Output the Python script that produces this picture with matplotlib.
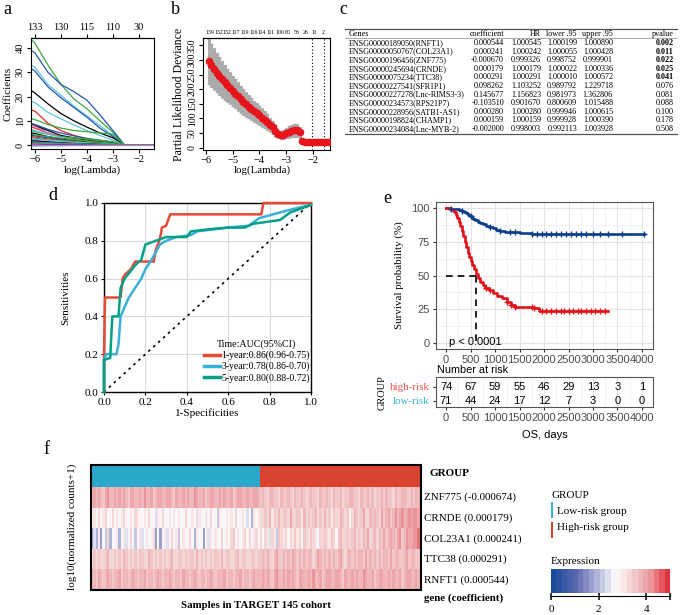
import numpy as np
import matplotlib
matplotlib.use('Agg')
import matplotlib.pyplot as plt
from matplotlib.colors import LinearSegmentedColormap, ListedColormap
from matplotlib.patches import Rectangle
from matplotlib.lines import Line2D
import matplotlib.cm as cm
import matplotlib.colors as mcolors

plt.rcParams['font.family'] = ['Liberation Serif', 'DejaVu Serif']
plt.rcParams['axes.unicode_minus'] = True
SANS = ['Liberation Sans', 'DejaVu Sans']

# ---------------- data ----------------
# panel a: lasso coefficient paths
lasso_loglam = [-6.15, -6.0, -5.5, -5.0, -4.5, -4.0, -3.5, -3.0, -2.55, -1.42]
lasso_colors = ['#3CA93C', '#2456B4', '#5DC3E0', '#2456B4', 'black', '#5DC3E0', '#E8262B',
                '#3CA93C', '#2456B4', 'black', '#E8262B', '#3CA93C', '#D36FC6', '#5DC3E0',
                'black', '#3CA93C', '#2456B4', '#E8262B', '#3CA93C', '#5DC3E0', '#D36FC6',
                'black', '#2456B4', '#3CA93C', '#E8262B', '#5DC3E0', '#2456B4', '#3CA93C',
                '#D36FC6']
lasso_coefs = [
    [43.5, 42, 33, 25, 19, 15, 10, 5.3, 0, 0],
    [39, 38, 30, 25, 22, 18.5, 12.5, 6, 0, 0],
    [33, 32, 25, 20.5, 16, 12, 8, 4, 0, 0],
    [31.5, 30.5, 24, 19.5, 15.5, 11.5, 7, 3.5, 0, 0],
    [22.5, 21.5, 17, 13, 10, 7.4, 5, 3, 0, 0],
    [18, 17.5, 13.5, 10.8, 8.3, 6, 4, 2, 0, 0],
    [14.5, 14, 9, 6, 4, 2.5, 1.5, 0.5, 0, 0],
    [11, 10.5, 8.5, 7, 6, 5.5, 5, 4.5, 0, 0],
    [9, 8.5, 6.5, 5, 3.8, 2.8, 2, 1, 0, 0],
    [8.5, 8, 6, 4, 3, 2, 1.3, 0.6, 0, 0],
    [7.5, 7, 5, 3.5, 2.5, 1.5, 0.8, 0.3, 0, 0],
    [6, 5.5, 4.5, 3.5, 3, 2.5, 2, 1.5, 0, 0],
    [8.2, 7.8, 5, 3, 2, 1, 0.5, 0.2, 0, 0],
    [6.5, 6, 4.5, 3.2, 2.2, 1.5, 1, 0.5, 0, 0],
    [5, 4.8, 3.5, 2.5, 1.8, 1.2, 0.8, 0.4, 0, 0],
    [4.5, 4.2, 3.5, 2.8, 2.2, 1.8, 1.2, 0.6, 0, 0],
    [4, 3.8, 3, 2.2, 1.6, 1.0, 0.6, 0.2, 0, 0],
    [3.5, 3.3, 2.5, 2.0, 1.5, 1.0, 0.5, 0.2, 0, 0],
    [3, 2.8, 2.2, 1.8, 1.4, 1.0, 0.7, 0.3, 0, 0],
    [2.5, 2.4, 2, 1.6, 1.2, 0.9, 0.5, 0.2, 0, 0],
    [2.2, 2, 1.5, 1.0, 0.7, 0.4, 0.2, 0.1, 0, 0],
    [1.8, 1.7, 1.3, 1.0, 0.7, 0.5, 0.3, 0.1, 0, 0],
    [1.5, 1.4, 1.0, 0.8, 0.5, 0.3, 0.2, 0.1, 0, 0],
    [1.2, 1.1, 0.9, 0.7, 0.5, 0.4, 0.2, 0.1, 0, 0],
    [0.9, 0.8, 0.6, 0.4, 0.3, 0.2, 0.1, 0, 0, 0],
    [0.6, 0.6, 0.5, 0.4, 0.3, 0.2, 0.1, 0, 0, 0],
    [0.4, 0.4, 0.3, 0.3, 0.2, 0.2, 0.1, 0, 0, 0],
    [-0.3, -0.3, -0.2, -0.2, -0.1, -0.1, 0, 0, 0, 0],
    [0, 0, 0, 0, 0, 0, 0, 0, 0, 0],
]
a_top_labels = ['133', '130', '115', '110', '30']

# panel b: cross-validation deviance
cv_loglam = [-5.9, -5.8, -5.7, -5.6, -5.5, -5.4, -5.3, -5.2, -5.1, -5.0,
             -4.9, -4.8, -4.7, -4.6, -4.5, -4.4, -4.3, -4.2, -4.1, -4.0,
             -3.9, -3.8, -3.7, -3.6, -3.5, -3.4, -3.3, -3.2, -3.1, -3.0,
             -2.9, -2.8, -2.7, -2.6, -2.5, -2.4, -2.3, -2.2, -2.1, -2.0,
             -1.9, -1.8, -1.7, -1.6, -1.5, -1.4]
cv_mean = [295, 282, 269, 257, 245, 234, 224, 213, 203, 193,
           184, 175, 166, 157, 148, 140, 133, 125, 118, 111,
           103, 95, 87, 78, 69, 57, 47, 42, 45, 50,
           54, 57, 59, 60, 52, 22, 19, 18, 18, 18,
           18, 18, 18, 18, 18, 18]
cv_sd = [77, 74, 71, 68, 65, 63, 60, 57, 55, 52,
         50, 48, 46, 44, 42, 40, 38, 36, 35, 33,
         31, 29, 27, 25, 22, 19, 15, 14, 16, 18,
         20, 22, 22, 22, 18, 6, 5, 4, 4, 4,
         4, 4, 4, 4, 4, 4]
b_top_labels = ['139', '132', '132', '117', '119', '116', '114', '111', '100', '80', '56', '26', '11', '2']
b_lambda_lines = [-2.02, -1.60]

# panel c: table
tab_header = ['Genes', 'coefficient', 'HR', 'lower .95', 'upper .95', 'pvalue']
tab_genes = ['ENSG00000189050(RNFT1)', 'ENSG00000050767(COL23A1)', 'ENSG00000196456(ZNF775)',
             'ENSG00000245694(CRNDE)', 'ENSG00000075234(TTC38)', 'ENSG00000227541(SFR1P1)',
             'ENSG00000227278(Lnc-RIMS3-3)', 'ENSG00000234573(RPS21P7)', 'ENSG00000228956(SATB1-AS1)',
             'ENSG00000198824(CHAMP1)', 'ENSG00000234084(Lnc-MYB-2)']
tab_coef = ['0.000544', '0.000241', '-0.000670', '0.000179', '0.000291', '0.098262',
            '0.145677', '-0.103510', '0.000280', '0.000159', '-0.002000']
tab_hr = ['1.000545', '1.000242', '0.999326', '1.000179', '1.000291', '1.103252',
          '1.156823', '0.901670', '1.000280', '1.000159', '0.998003']
tab_low = ['1.000199', '1.000055', '0.998752', '1.000022', '1.000010', '0.989792',
           '0.981973', '0.800609', '0.999946', '0.999928', '0.992113']
tab_up = ['1.000890', '1.000428', '0.999901', '1.000336', '1.000572', '1.229718',
          '1.362806', '1.015488', '1.000615', '1.000390', '1.003928']
tab_p = ['0.002', '0.011', '0.022', '0.025', '0.041', '0.076', '0.081', '0.088', '0.100', '0.178', '0.508']

# panel d: ROC curves
roc1_fpr = [0, 0, 0.005, 0.08, 0.09, 0.10, 0.13, 0.15, 0.24, 0.25, 0.27, 0.28, 0.30, 0.32, 0.76, 0.77, 1.0]
roc1_tpr = [0, 0.2, 0.5, 0.5, 0.6, 0.62, 0.65, 0.69, 0.69, 0.75, 0.81, 0.87, 0.88, 0.94, 0.94, 1.0, 1.0]
roc3_fpr = [0, 0, 0.01, 0.06, 0.07, 0.08, 0.10, 0.12, 0.15, 0.18, 0.20, 0.23, 0.27, 0.30, 0.35, 0.42,
            0.45, 0.60, 0.70, 0.75, 0.85, 0.92, 1.0]
roc3_tpr = [0, 0.17, 0.20, 0.20, 0.25, 0.40, 0.45, 0.50, 0.55, 0.60, 0.65, 0.70, 0.78, 0.80, 0.82, 0.83,
            0.85, 0.87, 0.88, 0.92, 0.95, 0.97, 0.99]
roc5_fpr = [0, 0, 0.03, 0.04, 0.07, 0.08, 0.10, 0.15, 0.18, 0.20, 0.25, 0.30, 0.40, 0.42, 0.50, 0.60,
            0.68, 0.72, 0.85, 0.90, 1.0]
roc5_tpr = [0, 0.17, 0.18, 0.40, 0.40, 0.55, 0.60, 0.67, 0.70, 0.78, 0.80, 0.82, 0.82, 0.85, 0.86, 0.87,
            0.87, 0.89, 0.91, 0.95, 0.99]
roc_labels = ['1-year:0.86(0.96-0.75)', '3-year:0.78(0.86-0.70)', '5-year:0.80(0.88-0.72)']

# panel e: Kaplan-Meier
km_low_t = [0, 90, 180, 260, 320, 360, 400, 440, 480, 520, 560, 600, 650, 700, 760, 820, 880, 950,
            1020, 1100, 1200, 1300, 1500, 1750]
km_low_s = [100, 99.5, 99, 98.5, 98, 97, 96, 95, 94, 93, 92, 91, 90, 89, 88, 87, 86, 85,
            84, 83, 82.5, 82, 81.5, 80.5]
km_low_end = 4050
km_low_cens = [100, 330, 500, 900, 1100, 1300, 1400, 1750, 1850, 1950, 2050, 2150, 2250, 2350,
               2450, 2550, 2650, 2750, 2850, 3000, 3150, 3300, 3600, 4050]
km_high_t = [0, 110, 160, 200, 230, 260, 290, 320, 350, 380, 410, 440, 470, 500, 540, 580, 620, 660,
             700, 750, 800, 870, 950, 1050, 1150, 1250, 1320, 1400, 1800, 1900]
km_high_s = [100, 98.6, 97, 95, 93, 90, 87, 83, 79, 75, 71, 67, 64, 61, 58, 55, 51, 48,
             45, 43, 41, 39, 37, 35, 33, 30, 28, 27, 26, 23.5]
km_high_end = 3300
km_high_cens = [820, 900, 1250, 1330, 1400, 1750, 1800, 1950, 2050, 2150, 2250, 2350, 2400, 2500,
                2600, 2700, 2750, 2850, 2950, 3050, 3150, 3250]
risk_times = [0, 500, 1000, 1500, 2000, 2500, 3000, 3500, 4000]
risk_high = [74, 67, 59, 55, 46, 29, 13, 3, 1]
risk_low = [71, 44, 24, 17, 12, 7, 3, 0, 0]

# panel f: heatmap
group_sizes = [74, 71]
hm_genes = ['ZNF775 (-0.000674)', 'CRNDE (0.000179)', 'COL23A1 (0.000241)', 'TTC38 (0.000291)', 'RNFT1 (0.000544)']
znf775 = [3.8, 3.9, 3.7, 4.0, 3.8, 3.6, 3.9, 4.1, 3.8, 3.7,
          3.9, 3.8, 4.0, 3.7, 3.9, 3.8, 3.6, 3.9, 4.0, 3.8,
          3.7, 3.9, 3.8, 4.1, 3.7, 3.8, 3.9, 3.6, 3.8, 4.0,
          3.9, 3.7, 3.8, 3.9, 4.0, 3.8, 3.6, 3.9, 3.8, 3.7,
          4.0, 3.8, 3.9, 3.7, 3.8, 4.1, 3.9, 3.7, 3.8, 3.9,
          3.6, 3.8, 4.0, 3.9, 3.7, 3.8, 3.9, 3.8, 4.0, 3.7,
          3.8, 3.9, 3.6, 3.8, 3.9, 4.0, 3.7, 3.8, 3.9, 3.7,
          3.8, 4.0, 3.9, 3.8,
          3.5, 3.7, 3.6, 3.4, 3.7, 3.8, 3.5, 3.6, 3.3, 3.7,
          3.6, 3.5, 3.8, 3.6, 3.4, 3.7, 3.5, 3.6, 3.8, 3.5,
          3.4, 3.6, 3.7, 3.5, 3.6, 3.3, 3.7, 3.6, 3.5, 3.8,
          3.6, 3.4, 3.7, 3.5, 3.6, 3.7, 3.4, 3.6, 3.5, 3.8,
          3.7, 3.5, 3.6, 3.4, 3.7, 3.6, 3.5, 3.8, 3.6, 3.7,
          3.4, 3.6, 3.5, 3.7, 3.6, 3.8, 3.5, 3.6, 3.4, 3.7,
          3.6, 3.5, 3.7, 3.8, 3.6, 3.5, 3.7, 3.6, 3.8, 3.7, 3.6]
crnde = [2.9, 3.1, 2.7, 3.3, 2.8, 3.0, 3.4, 2.6, 2.9, 3.2,
         2.8, 3.0, 2.7, 3.1, 3.3, 2.9, 2.6, 3.0, 2.8, 3.2,
         3.0, 2.7, 2.9, 3.1, 2.8, 3.3, 2.6, 2.9, 2.4, 3.0,
         2.8, 3.2, 2.9, 2.7, 3.0, 2.5, 3.1, 2.8, 3.0, 2.7,
         2.9, 3.3, 2.8, 2.6, 3.0, 2.9, 2.3, 3.1, 2.8, 2.7,
         3.0, 2.9, 3.2, 2.5, 2.8, 2.2, 3.0, 2.9, 2.6, 3.1,
         2.8, 3.0, 2.7, 3.2, 2.9, 2.8, 3.0, 2.6, 2.4, 2.9,
         1.9, 3.1, 2.8, 3.0,
         3.4, 3.2, 3.6, 3.3, 3.8, 3.1, 3.5, 3.4, 3.7, 3.2,
         3.5, 3.6, 3.3, 3.9, 3.4, 3.2, 3.6, 3.5, 3.1, 3.7,
         3.4, 3.6, 3.3, 3.5, 3.8, 3.2, 3.6, 3.4, 3.7, 3.3,
         3.5, 3.0, 3.6, 3.4, 3.2, 3.8, 3.5, 3.3, 3.6, 2.8,
         3.4, 3.7, 3.5, 3.2, 3.6, 3.9, 3.4, 3.3, 3.7, 3.5,
         3.8, 3.6, 3.4, 3.9, 3.5, 3.7, 4.0, 3.6, 3.8, 4.1,
         3.7, 3.9, 4.2, 3.8, 4.0, 4.3, 3.9, 4.1, 4.2, 4.0, 4.3]
col23a1 = [1.8, 2.4, 2.0, 3.0, 1.6, 2.6, 2.2, 3.2, 1.9, 2.8,
           2.5, 3.1, 2.0, 2.7, 3.0, 2.3, 2.9, 3.2, 2.6, 2.1,
           2.8, 3.0, 2.4, 2.7, 3.1, 2.5, 2.9, 3.3, 1.8, 2.6,
           1.7, 2.9, 3.0, 2.4, 2.8, 3.2, 2.6, 3.0, 2.2, 2.9,
           3.1, 2.5, 2.8, 3.3, 2.7, 2.0, 3.0, 2.6, 2.8, 1.7,
           2.9, 2.4, 3.1, 2.7, 3.0, 2.8, 2.5, 3.2, 2.7, 3.0,
           2.9, 3.3, 3.5, 2.8, 3.1, 2.6, 3.0, 3.4, 2.9, 3.2,
           2.8, 3.0, 3.3, 2.7,
           3.2, 2.9, 3.4, 3.1, 2.4, 3.3, 3.0, 2.2, 3.5, 3.2,
           3.0, 3.4, 2.6, 3.3, 3.1, 3.6, 3.0, 3.3, 2.8, 3.5,
           3.4, 3.1, 3.6, 3.3, 3.0, 2.5, 3.4, 3.2, 3.5, 3.3,
           3.1, 3.6, 3.4, 2.9, 3.5, 3.7, 3.2, 3.4, 3.6, 3.3,
           3.5, 3.8, 3.4, 3.6, 3.2, 3.7, 3.5, 3.9, 3.3, 3.6,
           3.8, 3.4, 3.7, 3.5, 3.9, 3.6, 3.8, 4.0, 3.7, 3.5,
           3.9, 4.1, 3.6, 3.8, 4.2, 4.0, 3.9, 4.3, 4.1, 4.4, 4.2]
ttc38 = [3.4, 3.5, 3.3, 3.6, 3.4, 3.2, 3.5, 3.7, 3.4, 3.3,
         3.6, 3.4, 3.5, 3.3, 3.7, 3.5, 3.4, 3.6, 3.3, 3.5,
         3.4, 3.6, 3.5, 3.2, 3.4, 3.7, 3.5, 3.3, 3.6, 3.4,
         3.5, 3.3, 3.6, 3.4, 3.5, 3.7, 3.4, 3.2, 3.5, 3.6,
         3.4, 3.5, 3.3, 3.6, 3.5, 3.4, 3.7, 3.3, 3.5, 3.4,
         3.6, 3.3, 3.5, 3.4, 3.6, 3.5, 3.3, 3.7, 3.4, 3.5,
         3.6, 3.4, 3.3, 3.5, 3.7, 3.4, 3.6, 3.5, 3.3, 3.4,
         3.6, 3.5, 3.4, 3.6,
         3.6, 3.7, 3.5, 3.8, 3.6, 3.4, 3.7, 3.9, 3.6, 3.5,
         3.8, 3.6, 3.7, 3.5, 3.9, 3.7, 3.6, 3.8, 3.5, 3.7,
         3.6, 3.8, 3.7, 3.4, 3.6, 3.9, 3.7, 3.5, 3.8, 3.6,
         3.7, 3.5, 3.8, 3.6, 3.7, 3.9, 3.6, 3.4, 3.7, 3.8,
         3.6, 3.7, 3.5, 3.8, 3.7, 3.6, 3.9, 3.5, 3.7, 3.6,
         3.8, 3.5, 3.7, 3.6, 3.8, 3.7, 3.5, 3.9, 3.6, 3.7,
         3.8, 3.6, 3.5, 3.7, 3.9, 3.6, 3.8, 3.7, 3.5, 3.6, 3.8]
rnft1 = [3.7, 3.8, 3.6, 3.9, 3.7, 3.5, 3.8, 4.0, 3.7, 3.6,
         3.8, 3.7, 3.9, 3.6, 3.8, 3.7, 3.5, 3.8, 3.9, 3.7,
         3.6, 3.8, 3.7, 4.0, 3.6, 3.7, 3.8, 3.5, 3.7, 3.9,
         3.8, 3.6, 3.7, 3.8, 3.9, 3.7, 3.5, 3.8, 3.7, 3.6,
         3.9, 3.7, 3.8, 3.6, 3.7, 4.0, 3.8, 3.6, 3.7, 3.8,
         3.5, 3.7, 3.9, 3.8, 3.6, 3.7, 3.8, 3.7, 3.9, 3.6,
         3.7, 3.8, 3.5, 3.7, 3.8, 3.9, 3.6, 3.7, 3.8, 3.6,
         3.7, 3.9, 3.8, 3.7,
         3.8, 3.9, 3.7, 4.0, 3.8, 3.6, 3.9, 4.1, 3.8, 3.7,
         3.9, 3.8, 4.0, 3.7, 3.9, 3.8, 3.6, 3.9, 4.0, 3.8,
         3.7, 3.9, 3.8, 4.1, 3.7, 3.8, 3.9, 3.6, 3.8, 4.0,
         3.9, 3.7, 3.8, 3.9, 4.0, 3.8, 3.6, 3.9, 3.8, 3.7,
         4.0, 3.8, 3.9, 3.7, 3.8, 4.1, 3.9, 3.7, 3.8, 3.9,
         3.6, 3.8, 4.0, 3.9, 3.7, 3.8, 3.9, 3.8, 4.0, 3.7,
         3.8, 3.9, 3.6, 3.8, 3.9, 4.0, 3.7, 3.8, 3.9, 3.7, 3.8]

# ---------------- figure ----------------
W, H = 685, 615
fig = plt.figure(figsize=(W / 100, H / 100), dpi=100)


def ax_at(l, t, r, b, **kw):
    return fig.add_axes([l / W, 1 - b / H, (r - l) / W, (b - t) / H], **kw)


def ftext(x, y, s, **kw):
    return fig.text(x / W, 1 - y / H, s, **kw)


def fline(x0, y0, x1, y1, **kw):
    fig.add_artist(Line2D([x0 / W, x1 / W], [1 - y0 / H, 1 - y1 / H], transform=fig.transFigure, **kw))


for lab, (x, y) in zip('abcdef', [(7, 9), (175, 9), (343, 9), (53, 196), (387, 198), (46, 449)]):
    ftext(x, y, lab, fontsize=13, ha='center', va='center')

# ---- panel a ----
ax = ax_at(31, 38, 154, 149)
for c, v in zip(lasso_colors, lasso_coefs):
    ax.plot(lasso_loglam, v, color=c, lw=0.9)
ax.set_xlim(-6.15, -1.42)
ax.set_ylim(-1.6, 44.1)
ax.set_xticks([-6, -5, -4, -3, -2])
ax.set_yticks([0, 10, 20, 30, 40])
ax.tick_params(labelsize=7.5, length=3, pad=1.5)
for t in ax.get_yticklabels():
    t.set_rotation(90)
    t.set_va('center')
sec = ax.secondary_xaxis('top')
sec.set_xticks([-6, -5, -4, -3, -2], labels=a_top_labels)
sec.tick_params(labelsize=7.5, length=3, pad=1.5)
ax.set_ylabel('Coefficients', fontsize=8, labelpad=2)
ftext(92, 170, 'log(Lambda)', fontsize=7.8, ha='center', va='center')

# ---- panel b ----
ax = ax_at(203, 38, 330, 150)
lam = np.array(cv_loglam)
m = np.array(cv_mean)
sd = np.array(cv_sd)
ax.vlines(lam, m - sd, m + sd, color='#ABABAB', lw=2.2)
ax.hlines(m + sd, lam - 0.05, lam + 0.05, color='#ABABAB', lw=0.9)
ax.hlines(m - sd, lam - 0.05, lam + 0.05, color='#ABABAB', lw=0.9)
ax.scatter(lam, m, s=30, color='#E8141B', zorder=3, lw=0)
for xv in b_lambda_lines:
    ax.axvline(xv, color='black', lw=0.8, ls=(0, (1, 2)))
ax.set_xlim(-6.11, -1.36)
ax.set_ylim(-8, 375)
ax.set_xticks([-6, -5, -4, -3, -2])
ax.set_yticks([0, 50, 100, 150, 200, 250, 300, 350])
ax.tick_params(labelsize=7, length=3, pad=1.5)
ax.tick_params(axis='x', labelsize=7.5)
for t in ax.get_yticklabels():
    t.set_rotation(90)
    t.set_va('center')
sec = ax.secondary_xaxis('top')
sec.set_xticks(list(np.linspace(-5.85, -1.62, len(b_top_labels))), labels=b_top_labels)
sec.tick_params(labelsize=4.2, length=0, pad=2)
ax.set_ylabel('Partial Likelihood Deviance', fontsize=8.5, labelpad=2)
ftext(262, 170, 'log(Lambda)', fontsize=7.8, ha='center', va='center')

# ---- panel c: table ----
fs_t = 5.9
row_top = 43
row_step = 8.6
xl, xr = 345, 677
fline(xl, 29, xr, 29, color='#555555', lw=0.9)
fline(xl, 38, xr, 38, color='#888888', lw=0.5)
ybot = row_top + row_step * (len(tab_genes) - 1) + 5
fline(xl, ybot, xr, ybot, color='#555555', lw=0.9)
col_x = [504, 541, 577, 613, 674]
ftext(349, 33.5, tab_header[0], fontsize=fs_t, ha='left', va='center')
for cx, h in zip(col_x, tab_header[1:]):
    ftext(cx, 33.5, h, fontsize=fs_t, ha='right', va='center')
for i, g in enumerate(tab_genes):
    y = row_top + i * row_step
    ftext(349, y, g, fontsize=fs_t, ha='left', va='center')
    vals = [tab_coef[i], tab_hr[i], tab_low[i], tab_up[i]]
    for cx, v in zip(col_x[:4], vals):
        ftext(cx, y, v, fontsize=fs_t, ha='right', va='center')
    bold = float(tab_p[i]) < 0.05
    ftext(col_x[4], y, tab_p[i], fontsize=fs_t, ha='right', va='center',
          fontweight='bold' if bold else 'normal')

# ---- panel d: ROC ----
ax = ax_at(104, 203, 311, 392)
roc_cols = ['#E64B35', '#3AB0D8', '#00A087']
ax.plot([0, 1], [0, 1], color='black', lw=1.2, ls=(0, (1.5, 2.5)), zorder=2)
for fpr, tpr, c in zip([roc1_fpr, roc3_fpr, roc5_fpr], [roc1_tpr, roc3_tpr, roc5_tpr], roc_cols):
    ax.plot(fpr, tpr, color=c, lw=1.8, clip_on=False, zorder=3)
ax.set_xlim(0, 1)
ax.set_ylim(0, 1)
ax.set_xticks([0, 0.2, 0.4, 0.6, 0.8, 1.0])
ax.set_yticks([0, 0.2, 0.4, 0.6, 0.8, 1.0])
ax.set_xticklabels(['0.0', '0.2', '0.4', '0.6', '0.8', '1.0'])
ax.set_yticklabels(['0.0', '0.2', '0.4', '0.6', '0.8', '1.0'])
ax.grid(True, color='#DADADA', lw=0.8)
ax.set_axisbelow(True)
ax.tick_params(labelsize=8, length=2, pad=2)
for s in ax.spines.values():
    s.set_color('black')
    s.set_linewidth(1.0)
ax.set_xlabel('1-Specificities', fontsize=8, labelpad=1)
ax.set_ylabel('Sensitivities', fontsize=8, labelpad=10)
handles = [Line2D([0], [0], color=c, lw=2.5) for c in roc_cols]
leg = ax.legend(handles, roc_labels, title='Time:AUC(95%CI)', loc='lower right',
                bbox_to_anchor=(0.995, 0.05), frameon=False, fontsize=7.0, title_fontsize=7.2,
                handlelength=1.6, handletextpad=0.2, labelspacing=0.15, borderaxespad=0.0,
                borderpad=0.0, alignment='center')

# ---- panel e: KM ----
ax = ax_at(436, 202, 653, 349)
low_col, high_col = '#0B3F8C', '#E3101A'
for t, s, end, cens, col in [(km_low_t, km_low_s, km_low_end, km_low_cens, low_col),
                             (km_high_t, km_high_s, km_high_end, km_high_cens, high_col)]:
    tt = list(t) + [end]
    ss = list(s) + [s[-1]]
    ax.step(tt, ss, where='post', color=col, lw=1.9, zorder=3)
    idx = np.searchsorted(np.array(t), np.array(cens), side='right') - 1
    ax.plot(cens, np.array(s)[idx], ls='none', marker='+', ms=5, mew=1.0, color=col, zorder=4)
ax.plot([0, 610], [50, 50], color='black', lw=1.2, ls=(0, (4, 3)), zorder=5)
ax.plot([610, 610], [50, 0], color='black', lw=1.2, ls=(0, (4, 3)), zorder=5)
ax.text(70, 0.5, 'p < 0.0001', family=SANS, fontsize=8, va='center', ha='left', zorder=6)
ax.set_xlim(-205, 4225)
ax.set_ylim(-4.5, 104.5)
ax.set_xticks(risk_times)
ax.set_xticks([250, 750, 1250, 1750, 2250, 2750, 3250, 3750], minor=True)
ax.set_yticks([0, 25, 50, 75, 100])
ax.set_yticks([12.5, 37.5, 62.5, 87.5], minor=True)
ax.grid(True, which='major', color='#E3E3E3', lw=0.8)
ax.grid(True, which='minor', color='#EFEFEF', lw=0.5)
ax.set_axisbelow(True)
ax.tick_params(which='minor', length=0)
ax.tick_params(which='major', labelsize=8, labelcolor='#4D4D4D', color='#333333', length=2.5, pad=2)
for lbl in ax.get_xticklabels() + ax.get_yticklabels():
    lbl.set_family(SANS)
for s in ax.spines.values():
    s.set_color('#555555')
    s.set_linewidth(0.8)
ax.set_ylabel('Survival probability (%)', fontsize=7.8, labelpad=5)
ftext(437, 370, 'Number at risk', family=SANS, fontsize=7.8, va='center', ha='left')

ax2 = ax_at(436, 377, 653, 407)
for xv, hv, lv in zip(risk_times, risk_high, risk_low):
    ax2.text(xv, 2, str(hv), family=SANS, fontsize=8, ha='center', va='center')
    ax2.text(xv, 1, str(lv), family=SANS, fontsize=8, ha='center', va='center')
ax2.set_xlim(-205, 4225)
ax2.set_ylim(0.57, 2.71)
ax2.set_xticks(risk_times)
ax2.set_xticks([250, 750, 1250, 1750, 2250, 2750, 3250, 3750], minor=True)
ax2.set_yticks([2, 1])
ax2.set_yticklabels(['high-risk', 'low-risk'])
ax2.get_yticklabels()[0].set_color('#E8544A')
ax2.get_yticklabels()[1].set_color('#35B4D8')
ax2.grid(True, which='major', axis='x', color='#E3E3E3', lw=0.8)
ax2.grid(True, which='minor', axis='x', color='#EFEFEF', lw=0.5)
ax2.set_axisbelow(True)
ax2.tick_params(which='minor', length=0)
ax2.tick_params(axis='x', which='major', labelsize=8, labelcolor='#4D4D4D', color='#333333', length=2.5, pad=2)
ax2.tick_params(axis='y', labelsize=7.8, color='#333333', length=2.5, pad=2)
for lbl in ax2.get_xticklabels():
    lbl.set_family(SANS)
for s in ax2.spines.values():
    s.set_color('#555555')
    s.set_linewidth(0.8)
ax2.set_xlabel('OS, days', family=SANS, fontsize=8, labelpad=5)
ftext(382, 393, 'GROUP', rotation=90, fontsize=7.5, ha='center', va='center')

# ---- panel f: heatmap ----
hm = np.array([znf775, crnde, col23a1, ttc38, rnft1])
cmap = LinearSegmentedColormap.from_list('expr', [(0, '#1B4A9C'), (0.2, '#5A67AE'), (0.4, '#B9BCDC'),
                                                  (0.54, '#FFFFFF'), (0.7, '#F3CCCD'),
                                                  (0.85, '#EB9A9E'), (1.0, '#E0353E')], N=22)
grp = np.repeat(np.arange(len(group_sizes)), group_sizes)[None, :]
grp_cmap = ListedColormap(['#2AA8C9', '#D9432F'])

axg = ax_at(91, 465, 421, 487)
axg.imshow(grp, cmap=grp_cmap, aspect='auto', interpolation='nearest', vmin=0, vmax=1)
axg.set_axis_off()
axh = ax_at(91, 487, 421, 590)
axh.imshow(hm, cmap=cmap, vmin=0, vmax=5, aspect='auto', interpolation='nearest')
axh.set_axis_off()
fig.add_artist(Rectangle((91 / W, 1 - 590 / H), 330 / W, 125 / H, transform=fig.transFigure,
                         fill=False, lw=1.5, ec='black'))
ftext(430, 473, 'GROUP', fontsize=8, fontweight='bold', ha='left', va='center')
for i, g in enumerate(hm_genes):
    ftext(424, 497.5 + i * 20.6, g, fontsize=7.9, ha='left', va='center')
ftext(424, 598, 'gene (coefficient)', fontsize=7.8, fontweight='bold', ha='left', va='center')
ftext(256, 605, 'Samples in TARGET 145 cohort', fontsize=7.8, fontweight='bold', ha='center', va='center')
ftext(72, 527, 'log10(normalized counts+1)', fontsize=8, rotation=90, ha='center', va='center')

# legend of f
ftext(551, 496, 'GROUP', fontsize=8, ha='left', va='center')
fig.add_artist(Rectangle((551 / W, 1 - 518 / H), 2 / W, 16 / H, transform=fig.transFigure,
                         color='#3CB0D0', lw=0))
ftext(557, 511, 'Low-risk group', fontsize=8, ha='left', va='center')
fig.add_artist(Rectangle((551 / W, 1 - 538 / H), 2 / W, 16 / H, transform=fig.transFigure,
                         color='#D9432F', lw=0))
ftext(557, 528, 'High-risk group', fontsize=8, ha='left', va='center')
ftext(551, 562, 'Expression', fontsize=8, ha='left', va='center')
axc = ax_at(551, 569, 670, 593)
cb = fig.colorbar(cm.ScalarMappable(norm=mcolors.Normalize(0, 5), cmap=cmap), cax=axc,
                  orientation='horizontal', ticks=[0, 2, 4, 5])
cb.set_ticklabels(['0', '2', '4', ''])
cb.outline.set_visible(False)
axc.tick_params(length=5, width=1.1, labelsize=8, pad=4, color='black')
fline(551, 596, 670, 596, color='black', lw=0.8)

fig.savefig('out.png', dpi=100)
